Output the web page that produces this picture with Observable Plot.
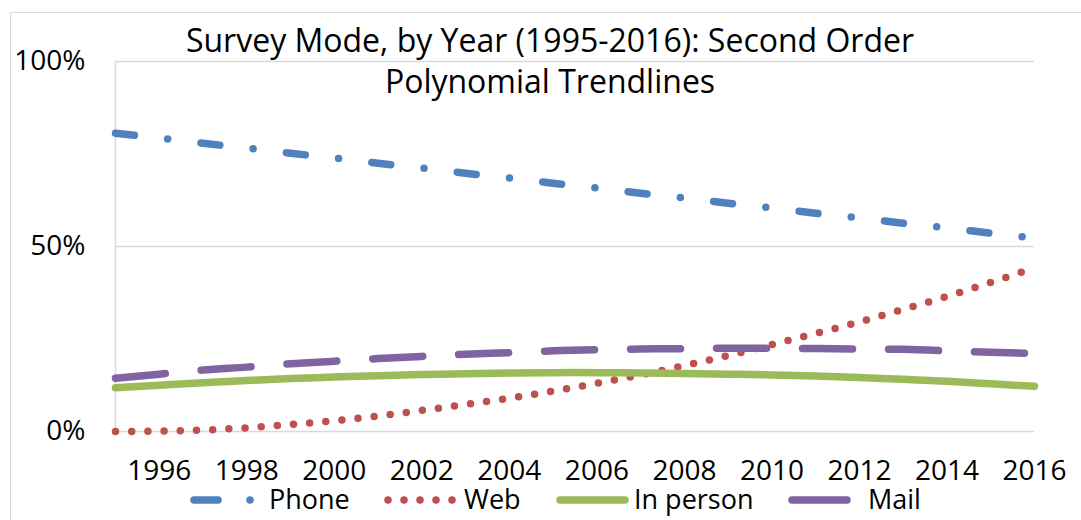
<!DOCTYPE html>
<html>
<head>
<meta charset="utf-8">
<script src="https://cdn.jsdelivr.net/npm/d3@7"></script>
<script src="https://cdn.jsdelivr.net/npm/@observablehq/plot@0.6"></script>
<style>
  body { margin: 0; background: #fff; }
  #wrap { position: relative; width: 1081px; height: 520px; overflow: hidden; font-family: "Open Sans", sans-serif; background: #fff; }
  #frame { position: absolute; left: 10px; top: 12px; width: 1200px; height: 700px; border: 1.5px solid #d9d9d9; box-sizing: border-box; }
  #title { position: absolute; left: 0; top: 19px; width: 1100px; text-align: center; font-size: 32px; line-height: 41px; color: #000; white-space: nowrap; }
  #chart { position: absolute; left: 0; top: 0; }
  #legend { position: absolute; left: 0; top: 0; pointer-events: none; }
</style>
</head>
<body>
<div id="wrap">
  <div id="frame"></div>
  <div id="chart"></div>
  <div id="title">Survey Mode, by Year (1995-2016): Second Order<br>Polynomial Trendlines</div>
</div>
<script>
// ---- data (percent) ----
const years = [1995, 1996, 1997, 1998, 1999, 2000, 2001, 2002, 2003, 2004, 2005,
               2006, 2007, 2008, 2009, 2010, 2011, 2012, 2013, 2014, 2015, 2016];
const phone    = [80.6, 79.3, 77.9, 76.6, 75.2, 73.9, 72.5, 71.2, 69.8, 68.5, 67.1,
                  65.8, 64.4, 63.1, 61.7, 60.4, 59.0, 57.7, 56.3, 55.0, 53.6, 52.3];
const web      = [0.0, 0.1, 0.4, 1.0, 1.9, 2.9, 4.2, 5.7, 7.3, 9.0, 10.9,
                  13.0, 15.3, 17.8, 20.5, 23.5, 26.5, 29.6, 33.0, 36.5, 40.3, 44.2];
const inPerson = [11.8, 12.5, 13.2, 13.8, 14.3, 14.7, 15.1, 15.4, 15.6, 15.8, 15.9,
                  15.9, 15.8, 15.7, 15.5, 15.3, 15.0, 14.6, 14.1, 13.6, 12.9, 12.2];
const mail     = [14.4, 15.5, 16.6, 17.4, 18.3, 19.0, 19.7, 20.3, 20.9, 21.3, 21.8,
                  22.1, 22.3, 22.4, 22.5, 22.5, 22.4, 22.3, 22.2, 21.8, 21.4, 21.1];
const seriesNames = ["Phone", "Web", "In person", "Mail"];
const xTicks = [1996, 1998, 2000, 2002, 2004, 2006, 2008, 2010, 2012, 2014, 2016];
const yTicks = [0, 50, 100];

// ---- styles ----
const styles = {
  "Phone":     {stroke: "#4f81bd", dash: "19 33.5 0 33.5"},
  "Web":       {stroke: "#c0504d", dash: "0 16.2"},
  "In person": {stroke: "#9bbb59", dash: null},
  "Mail":      {stroke: "#8064a2", dash: "50 36"}
};

const valuesByName = {"Phone": phone, "Web": web, "In person": inPerson, "Mail": mail};
const rows = name => years.map((yr, i) => ({year: yr, value: valuesByName[name][i], mode: name}));

const lineMarks = seriesNames.map(name => Plot.line(rows(name), {
  x: "year", y: "value",
  stroke: styles[name].stroke,
  strokeWidth: 7.5,
  strokeLinecap: "round",
  strokeLinejoin: "round",
  strokeDasharray: styles[name].dash,
  curve: "natural"
}));

const chart = Plot.plot({
  width: 1081, height: 520,
  marginLeft: 115, marginRight: 47, marginTop: 61, marginBottom: 89,
  style: {fontFamily: "Open Sans", fontSize: "28px", color: "#000", background: "transparent", overflow: "visible"},
  x: {domain: [1995, 2016], ticks: xTicks, tickFormat: d => String(d), tickSize: 0, tickPadding: 29, label: null},
  y: {domain: [0, 100], ticks: yTicks, tickFormat: d => d + "%", tickSize: 0, tickPadding: 30, label: null},
  marks: [
    Plot.ruleY(yTicks, {stroke: "#d9d9d9", strokeWidth: 1.5}),
    Plot.ruleX([1995], {y1: 0, y2: 100, stroke: "#d9d9d9", strokeWidth: 1.5}),
    ...lineMarks
  ]
});
document.getElementById("chart").appendChild(chart);

// ---- legend (below plot, inside chart border) ----
const lg = d3.select("#wrap").append("svg").attr("id", "legend")
  .attr("width", 1081).attr("height", 520);
const ly = 500, base = 509;
const legendItems = [
  {name: "Phone", textX: 269, draw: g => {
    g.append("line").attr("x1", 194).attr("x2", 218).attr("y1", ly).attr("y2", ly)
      .attr("stroke", styles.Phone.stroke).attr("stroke-width", 7.5).attr("stroke-linecap", "round");
    g.append("circle").attr("cx", 250).attr("cy", ly).attr("r", 3.75).attr("fill", styles.Phone.stroke);
  }},
  {name: "Web", textX: 464, draw: g => {
    [388, 404, 420, 436, 452].forEach(cx =>
      g.append("circle").attr("cx", cx).attr("cy", ly).attr("r", 3.75).attr("fill", styles.Web.stroke));
  }},
  {name: "In person", textX: 634, draw: g => {
    g.append("line").attr("x1", 560).attr("x2", 625).attr("y1", ly).attr("y2", ly)
      .attr("stroke", styles["In person"].stroke).attr("stroke-width", 7.5).attr("stroke-linecap", "round");
  }},
  {name: "Mail", textX: 868, draw: g => {
    g.append("line").attr("x1", 792).attr("x2", 847).attr("y1", ly).attr("y2", ly)
      .attr("stroke", styles.Mail.stroke).attr("stroke-width", 7.5).attr("stroke-linecap", "round");
  }}
];
legendItems.forEach(it => {
  const g = lg.append("g");
  it.draw(g);
  g.append("text").attr("x", it.textX).attr("y", base)
    .attr("font-family", "Open Sans").attr("font-size", 27).attr("fill", "#000").text(it.name);
});
</script>
</body>
</html>
